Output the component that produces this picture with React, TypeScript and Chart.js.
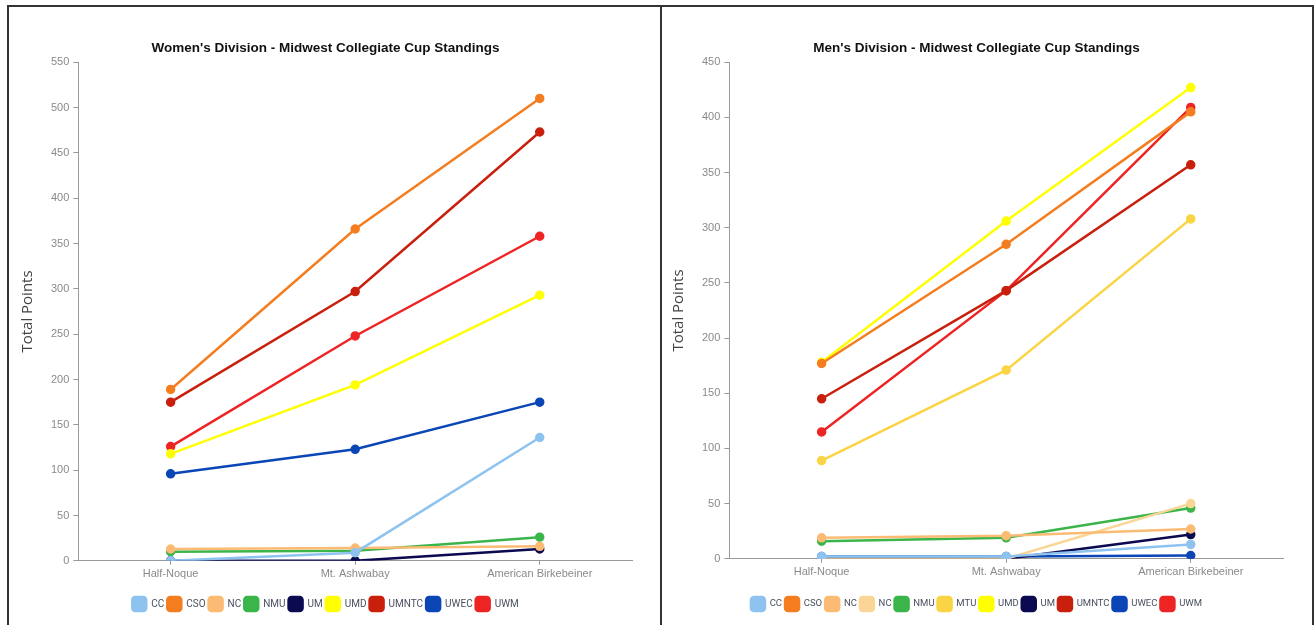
import React, { useEffect, useRef } from "react";
import { Chart, registerables } from "chart.js";

Chart.register(...registerables);

const races = ["Half-Noque", "Mt. Ashwabay", "American Birkebeiner"];

// Women's division
const wTeams = ["CC", "CSO", "NC", "NMU", "UM", "UMD", "UMNTC", "UWEC", "UWM"];
const wCC = [0, 9, 136];
const wCSO = [189, 366, 510];
const wNC = [13, 14, 16];
const wNMU = [10, 11, 26];
const wUM = [0, 0, 13];
const wUMD = [118, 194, 293];
const wUMNTC = [175, 297, 473];
const wUWEC = [96, 123, 175];
const wUWM = [126, 248, 358];
const wColors = ["#8ec3f0", "#f47d20", "#fbbb74", "#3bb54a", "#0b0a50", "#ffff00", "#c9200d", "#0a46b5", "#ee2424"];

// Men's division
const mTeams = ["CC", "CSO", "NC", "NC", "NMU", "MTU", "UMD", "UM", "UMNTC", "UWEC", "UWM"];
const mCC = [2, 2, 13];
const mCSO = [177, 285, 405];
const mNC = [19, 21, 27];
const mNC2 = [0, 0, 50];
const mNMU = [16, 19, 46];
const mMTU = [89, 171, 308];
const mUMD = [178, 306, 427];
const mUM = [1, 0, 22];
const mUMNTC = [145, 243, 357];
const mUWEC = [2, 2, 3];
const mUWM = [115, 243, 409];
const mColors = ["#8ec3f0", "#f47d20", "#fbbb74", "#f9d696", "#3bb54a", "#fbd443", "#ffff00", "#0b0a50", "#c9200d", "#0a46b5", "#ee2424"];

type Props = {
  title: string;
  teams: string[];
  series: number[][];
  colors: string[];
  yMax: number;
  padLeft: number;
  xExtra: number;
  padTop: number;
  legendFont: number;
};

function LineChart({ title, teams, series, colors, yMax, padLeft, xExtra, padTop, legendFont }: Props) {
  const ref = useRef<HTMLCanvasElement | null>(null);
  useEffect(() => {
    if (!ref.current) return;
    const chart = new Chart(ref.current, {
      type: "line",
      data: {
        labels: races,
        datasets: teams.map((t, i) => ({
          label: t,
          data: series[i],
          borderColor: colors[i],
          backgroundColor: colors[i],
          pointBackgroundColor: colors[i],
          pointBorderColor: colors[i],
          borderWidth: 2.5,
          pointRadius: 3.5,
          tension: 0,
        })),
      },
      options: {
        animation: false,
        responsive: true,
        maintainAspectRatio: false,
        layout: { padding: { top: padTop, right: 28, bottom: 4, left: padLeft } },
        plugins: {
          title: {
            display: true,
            text: title,
            color: "#111",
            font: { family: "Liberation Sans", size: 13.5, weight: "bold" },
            padding: { top: 0, bottom: 6 },
          },
          legend: {
            position: "bottom",
            labels: {
              boxWidth: 14,
              boxHeight: 14,
              useBorderRadius: true,
              borderRadius: 3,
              padding: 3,
              color: "#4a5060",
              font: { family: "Roboto", size: legendFont },
            },
          },
          tooltip: { enabled: false },
        },
        scales: {
          x: {
            offset: true,
            grid: { drawOnChartArea: false, tickLength: 4, color: "#999" },
            border: { color: "#999" },
            ticks: { color: "#8a8a8a", font: { family: "Liberation Sans", size: 11 }, padding: 3 },
            afterFit: (scale: any) => {
              scale.height += xExtra;
            },
          },
          y: {
            min: 0,
            max: yMax,
            grid: { drawOnChartArea: false, tickLength: 5, color: "#999" },
            border: { color: "#999" },
            ticks: { stepSize: 50, color: "#8a8a8a", font: { family: "Liberation Sans", size: 11 }, padding: 4 },
            title: {
              display: true,
              text: "Total Points",
              color: "#444",
              font: { family: "Open Sans", size: 15 },
              padding: { top: 0, bottom: 10 },
            },
          },
        },
      },
    });
    return () => chart.destroy();
  }, []);
  return <canvas ref={ref} />;
}

export default function App() {
  const panel: React.CSSProperties = {
    position: "absolute",
    top: 5,
    height: 640,
    borderTop: "2px solid #333",
    boxSizing: "border-box",
    background: "#fff",
  };
  return (
    <div style={{ position: "fixed", left: 0, top: 0, width: 1314, height: 625, background: "#fff", overflow: "hidden" }}>
      <div style={{ ...panel, left: 7, width: 655, borderLeft: "2px solid #333", borderRight: "2px solid #333" }}>
        <div style={{ position: "absolute", left: 0, top: 0, width: 651, height: 618 }}>
          <LineChart
            title="Women's Division - Midwest Collegiate Cup Standings"
            teams={wTeams}
            series={[wCC, wCSO, wNC, wNMU, wUM, wUMD, wUMNTC, wUWEC, wUWM]}
            colors={wColors}
            yMax={550}
            padLeft={10}
            xExtra={10}
            padTop={33}
            legendFont={10}
          />
        </div>
      </div>
      <div style={{ ...panel, left: 662, width: 652, borderRight: "2px solid #333" }}>
        <div style={{ position: "absolute", left: 0, top: 0, width: 649, height: 618 }}>
          <LineChart
            title="Men's Division - Midwest Collegiate Cup Standings"
            teams={mTeams}
            series={[mCC, mCSO, mNC, mNC2, mNMU, mMTU, mUMD, mUM, mUMNTC, mUWEC, mUWM]}
            colors={mColors}
            yMax={450}
            padLeft={8}
            xExtra={12}
            padTop={33}
            legendFont={9.5}
          />
        </div>
      </div>
    </div>
  );
}
